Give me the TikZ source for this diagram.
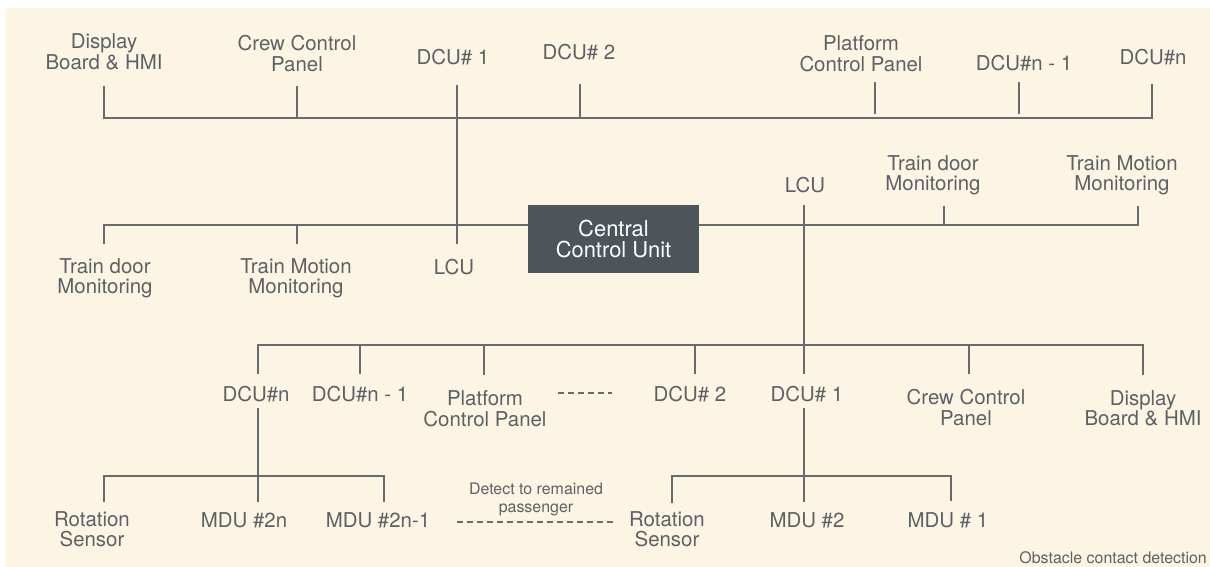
\documentclass[tikz,border=0pt]{standalone}
\usepackage{fontspec}
\setmainfont{TeX Gyre Heros}
\definecolor{bg}{HTML}{FDF5E4}
\definecolor{txt}{HTML}{5B6166}
\definecolor{ln}{HTML}{666B70}
\definecolor{boxc}{HTML}{4D545A}
\begin{document}
\begin{tikzpicture}[x=1bp,y=-1bp,
  lbl/.style={text=txt, font=\fontsize{20.5}{20.5}\selectfont, align=center, inner sep=0pt},
  small/.style={text=txt, font=\fontsize{16}{18}\selectfont, align=center, inner sep=0pt},
  wire/.style={draw=ln, line width=1.7bp},
  dashwire/.style={draw=ln, line width=1.5bp, dash pattern=on 6bp off 4bp},
  ccu/.style={fill=boxc, text=white, font=\fontsize{22}{21}\selectfont, align=center,
    minimum width=171bp, minimum height=68bp, inner sep=0pt}]
\useasboundingbox (0,0) rectangle (1210,567);
\fill[white] (0,0) rectangle (1210,567);
\fill[bg] (5,8) rectangle (1210,567);

% ---------- top row labels ----------
\node[lbl] (tdisp) at (104,52) {Display\\Board \& HMI};
\node[lbl] (tcrew) at (297,53.5) {Crew Control\\Panel};
\node[lbl] (tdcu1) at (453,57.5) {DCU\# 1};
\node[lbl] (tdcu2) at (579,52.5) {DCU\# 2};
\node[lbl] (tplat) at (861,53.5) {Platform\\Control Panel};
\node[lbl] (tdcunm) at (1024,63) {DCU\#n - 1};
\node[lbl] (tdcun) at (1153,57.5) {DCU\#n};

% ---------- central ----------
\node[ccu] (ccu) at (613.5,239) {Central\\Control Unit};

% ---------- middle labels ----------
\node[lbl] (ltdm) at (105,278) {Train door\\Monitoring};
\node[lbl] (ltmm) at (296,278) {Train Motion\\Monitoring};
\node[lbl] (llcu) at (454,267) {LCU};
\node[lbl] (rlcu) at (805,185) {LCU};
\node[lbl] (rtdm) at (933,175.5) {Train door\\Monitoring};
\node[lbl] (rtmm) at (1122,175.5) {Train Motion\\Monitoring};

% ---------- lower row labels ----------
\node[lbl] (bdcun) at (256,394) {DCU\#n};
\node[lbl] (bdcunm) at (360,394) {DCU\#n - 1};
\node[lbl] (bplat) at (485,408.5) {Platform\\Control Panel};
\node[lbl] (bdcu2) at (690,394) {DCU\# 2};
\node[lbl] (bdcu1) at (807,394) {DCU\# 1};
\node[lbl] (bcrew) at (966,407.5) {Crew Control\\Panel};
\node[lbl] (bdisp) at (1143,408.5) {Display\\Board \& HMI};

% ---------- bottom labels ----------
\node[lbl] (rotl) at (92,529.5) {Rotation\\Sensor};
\node[lbl] (mdu2n) at (244,520) {MDU \#2n};
\node[lbl] (mdu2n1) at (378,520) {MDU \#2n-1};
\node[small] (detect) at (536,499) {Detect to remained\\passenger};
\node[lbl] (rotr) at (667,529.5) {Rotation\\Sensor};
\node[lbl] (mdu2) at (807,520) {MDU \#2};
\node[lbl] (mdu1) at (948,520) {MDU \# 1};
\node[small, anchor=east] (obst) at (1207,558) {Obstacle contact detection};

% ---------- coordinates ----------
\coordinate (tbl) at (104,118);
\coordinate (tbr) at (1152,118);
\coordinate (mbl) at (104,225);
\coordinate (mbr) at (1138,225);
\coordinate (lbl0) at (258,345);
\coordinate (lbr) at (1143,345);
\coordinate (bll) at (104,476);
\coordinate (blr) at (384,476);
\coordinate (brl) at (672,476);
\coordinate (brr) at (951,476);
\coordinate (ds1) at (558,393);
\coordinate (ds2) at (612,393);
\coordinate (dd1) at (457,522);
\coordinate (dd2) at (613,522);

% ---------- top bus ----------
\draw[wire] (104,86) -- (tbl) -- (tbr) -- (1152,84);
\draw[wire] (297,86) -- (297,118);
\draw[wire] (457,85) -- (457,244);
\draw[wire] (580,84) -- (580,117);
\draw[wire] (875,82) -- (875,114);
\draw[wire] (1019,82) -- (1019,114);

% ---------- middle bus ----------
\draw[wire] (104,244) -- (mbl) -- (ccu.west |- mbl);
\draw[wire] (297,225) -- (297,244);
\draw[wire] (ccu.east |- mbr) -- (mbr) -- (1138,206);
\draw[wire] (944,206) -- (944,225);
\draw[wire] (804,205) -- (804,374);

% ---------- lower bus ----------
\draw[wire] (258,374) -- (lbl0) -- (lbr) -- (1143,375);
\draw[wire] (360,345) -- (360,374);
\draw[wire] (484,345) -- (484,375);
\draw[wire] (695,345) -- (695,374);
\draw[wire] (969,345) -- (969,374);
\draw[dashwire] (ds1) -- (ds2);

% ---------- bottom left ----------
\draw[wire] (258,408) -- (258,502);
\draw[wire] (104,502) -- (bll) -- (blr) -- (384,502);

% ---------- bottom right ----------
\draw[wire] (804,408) -- (804,502);
\draw[wire] (672,503) -- (brl) -- (brr) -- (951,501);

\draw[dashwire] (dd1) -- (dd2);
\end{tikzpicture}
\end{document}
